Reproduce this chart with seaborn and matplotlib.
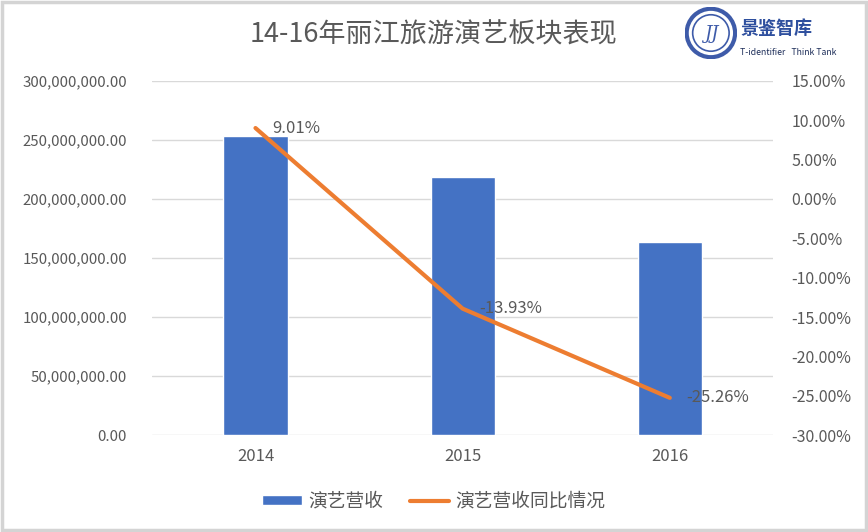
import matplotlib
matplotlib.use("Agg")
import matplotlib.pyplot as plt
import matplotlib.ticker as mticker
from matplotlib.patches import Rectangle, Circle
import seaborn as sns
import pandas as pd
import numpy as np

# Données
annees = ["2014", "2015", "2016"]
revenus = [253500000, 218600000, 163600000]
croissance = [9.01, -13.93, -25.26]
nom_barres = "演艺营收"
nom_ligne = "演艺营收同比情况"
titre = "14-16年丽江旅游演艺板块表现"

bleu = "#4472C4"
orange = "#ED7D31"
gris_txt = "#595959"

sns.set_theme(style="white")
plt.rcParams['font.family'] = ['Noto Sans CJK SC', 'DejaVu Sans']

df = pd.DataFrame({"annee": annees, "revenu": revenus, "croissance": croissance})

fig = plt.figure(figsize=(8.68, 5.32), dpi=100)
ax = fig.add_axes([0.175, 0.182, 0.716, 0.666])

sns.barplot(data=df, x="annee", y="revenu", color=bleu, width=0.31,
            saturation=1, ax=ax, label=nom_barres)
ax.set_ylim(0, 300000000)
ax.set_xlim(-0.5, 2.5)
ax.yaxis.set_major_locator(mticker.MultipleLocator(50000000))
ax.yaxis.set_major_formatter(mticker.FuncFormatter(lambda v, p: f"{v:,.2f}"))
ax.grid(axis="y", color="#D9D9D9", linewidth=1)
ax.set_axisbelow(True)
ax.set_xlabel("")
ax.set_ylabel("")
for s in ax.spines.values():
    s.set_visible(False)
ax.tick_params(axis="y", colors=gris_txt, labelsize=10.8, length=0, pad=18)
ax.tick_params(axis="x", colors=gris_txt, labelsize=12, length=0, pad=9)

# Axe secondaire
ax2 = ax.twinx()
pos = np.arange(len(annees))
sns.lineplot(x=pos, y=croissance, color=orange, linewidth=3, ax=ax2,
             label=nom_ligne, legend=False)
ax2.set_ylim(-30, 15)
ax2.yaxis.set_major_locator(mticker.MultipleLocator(5))
ax2.yaxis.set_major_formatter(mticker.FuncFormatter(lambda v, p: f"{v:.2f}%"))
for s in ax2.spines.values():
    s.set_visible(False)
ax2.tick_params(axis="y", colors=gris_txt, labelsize=11.5, length=0, pad=13)
ax2.set_ylabel("")
ax2.grid(False)

for x, v in zip(pos, croissance):
    ax2.annotate(f"{v:.2f}%", (x, v), xytext=(12, 0), textcoords="offset points",
                 ha="left", va="center", fontsize=12, color=gris_txt)

# Légende
h1, l1 = ax.get_legend_handles_labels()
h2, l2 = ax2.get_legend_handles_labels()
if ax.get_legend() is not None:
    ax.get_legend().remove()
fig.legend(h1 + h2, l1 + l2, loc="center", bbox_to_anchor=(0.5, 0.058), ncol=2,
           frameon=False, fontsize=13.5, labelcolor=gris_txt, handlelength=2.1,
           handleheight=0.5, columnspacing=1.4, handletextpad=0.35)

# Titre
fig.text(0.5, 0.934, titre, ha="center", va="center", fontsize=19.5, color=gris_txt)

# Logo
logo_ax = fig.add_axes([0.789, 0.888, 0.06, 0.1])
logo_ax.set_xlim(-1, 1)
logo_ax.set_ylim(-1, 1)
logo_ax.set_aspect("equal")
logo_ax.axis("off")
logo_ax.add_patch(Circle((0, 0), 0.93, fill=False, edgecolor="#3E5BA9", linewidth=3))
logo_ax.add_patch(Circle((0, 0), 0.70, fill=False, edgecolor="#3E5BA9", linewidth=1.2))
logo_ax.text(0, -0.05, "JJ", ha="center", va="center", fontsize=13, color="#3E5BA9",
             fontstyle="italic", family="DejaVu Serif")
fig.text(0.853, 0.947, "景鉴智库", ha="left", va="center", fontsize=13,
         color="#2E4F9E", fontweight="bold")
fig.text(0.853, 0.902, "T-identifier   Think Tank", ha="left", va="center",
         fontsize=6.3, color="#1F2F5A")

# Bordure
fig.patches.append(Rectangle((0.002, 0.004), 0.996, 0.992, transform=fig.transFigure,
                             fill=False, edgecolor="#D4D4D4", linewidth=2.5))

fig.savefig("out.png", dpi=100, facecolor="white")
